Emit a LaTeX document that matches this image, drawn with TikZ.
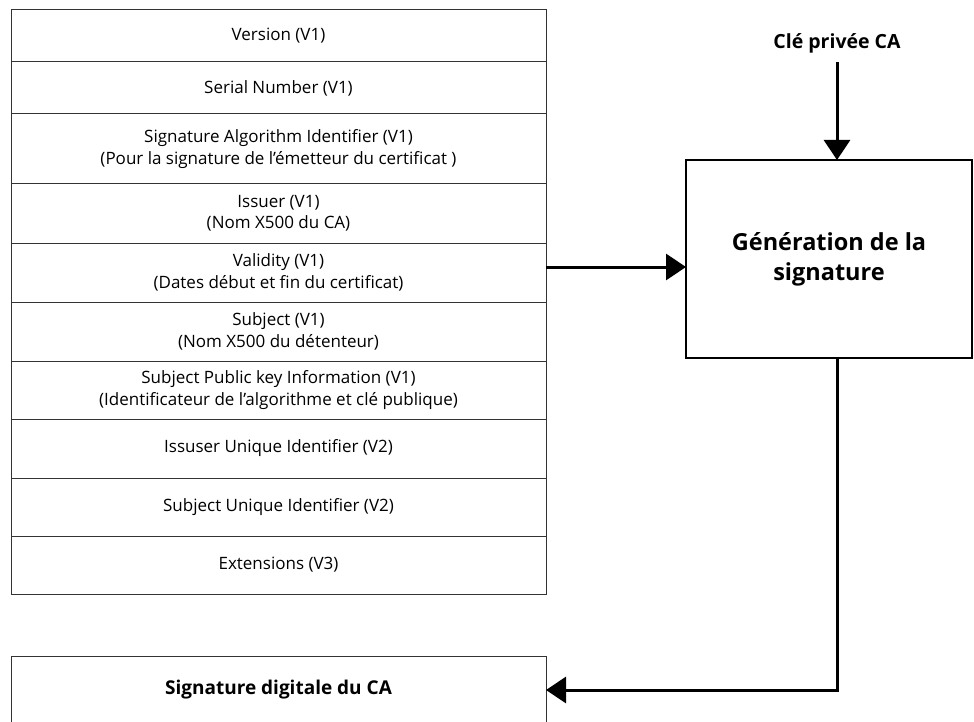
\documentclass[tikz,border=0pt]{standalone}
\usepackage{fontspec}
\setmainfont{Open Sans}
\usetikzlibrary{positioning,arrows.meta}

\tikzset{
  field/.style={draw=black!80,line width=1pt,minimum width=535pt,outer sep=0pt,inner sep=0pt,align=center,font=\fontsize{17}{21.5}\selectfont},
  bloc/.style={draw,line width=1.6pt,outer sep=0pt,align=center},
  flux/.style={line width=3pt,-{Triangle[length=20pt,width=26pt]}}
}

\begin{document}
\begin{tikzpicture}[x=1pt,y=-1pt]
\useasboundingbox (0,0) rectangle (974,722);
\clip (0,0) rectangle (974,722);
\node[field,minimum height=52pt,anchor=north west] (f1) at (11,10) {Version (V1)};
\node[field,minimum height=52pt,below=0pt of f1] (f2) {Serial Number (V1)};
\node[field,minimum height=70pt,below=0pt of f2] (f3) {Signature Algorithm Identifier (V1)\\(Pour la signature de l’émetteur du certificat )};
\node[field,minimum height=59pt,below=0pt of f3] (f4) {Issuer (V1)\\(Nom X500 du CA)};
\node[field,minimum height=59pt,below=0pt of f4] (f5) {Validity (V1)\\(Dates début et fin du certificat)};
\node[field,minimum height=59pt,below=0pt of f5] (f6) {Subject (V1)\\(Nom X500 du détenteur)};
\node[field,minimum height=58pt,below=0pt of f6] (f7) {Subject Public key Information (V1)\\(Identificateur de l’algorithme et clé publique)};
\node[field,minimum height=59pt,below=0pt of f7] (f8) {Issuser Unique Identifier (V2)};
\node[field,minimum height=58pt,below=0pt of f8] (f9) {Subject Unique Identifier (V2)};
\node[field,minimum height=58pt,below=0pt of f9] (f10) {Extensions (V3)};

\node[field,minimum height=68pt,anchor=north west,font=\bfseries\fontsize{19}{22}\selectfont] (sig) at (11,656) {Signature digitale du CA};

\node[bloc,minimum width=286pt,minimum height=198pt,anchor=north west,font=\bfseries\fontsize{23.5}{30}\selectfont] (gen) at (686,160) {Génération de la\\signature};
\node[inner sep=9pt,font=\bfseries\fontsize{19.5}{22}\selectfont] (cle) at (837,43) {Clé privée CA};

\draw[flux] (cle.south) -- (cle.south |- gen.north);
\draw[flux] ([yshift=5.5pt]f5.east) -- ([yshift=5.5pt]f5.east -| gen.west);
\draw[flux] (cle |- gen.south) |- (sig.east);
\end{tikzpicture}
\end{document}
